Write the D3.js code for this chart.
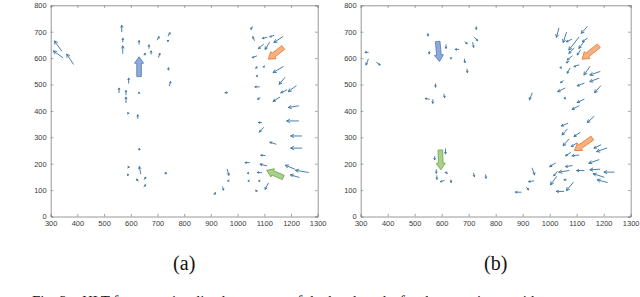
<!DOCTYPE html>
<html>
<head>
<meta charset="utf-8">
<script src="https://cdn.jsdelivr.net/npm/d3@7"></script>
<style>
  body { margin: 0; background: #fff; }
  svg { display: block; }
  .tick text { font-family: "Liberation Sans", Arial, sans-serif; font-size: 7.5px; fill: #3a3a3a; }
  .lbl { font-family: "Liberation Serif", "Times New Roman", serif; }
</style>
</head>
<body>
<script>
// tick values (both panels share them)
var xTicks = [300, 400, 500, 600, 700, 800, 900, 1000, 1100, 1200, 1300];
var yTicks = [0, 100, 200, 300, 400, 500, 600, 700, 800];

// panel (a): tail x, tail y, u, v
var aX = [341, 345, 385, 566, 570, 570, 631, 668, 676, 651, 699, 740, 737, 704, 741, 744, 592, 556, 582, 582, 631, 588, 626, 632, 590, 637, 588, 627, 651, 649, 728, 912,
          1055, 1063, 1109, 1136, 1097, 1119, 1169, 1071, 1073, 1099, 1171, 1072, 1177, 1081, 1184, 1219, 1084, 1158, 1228, 1228, 1090, 1097, 1240, 1144, 1240, 1103, 1044, 1109, 1213, 1265, 1230, 1090, 1115, 1073, 961, 944, 963, 1040, 1041, 1082, 965];
var aY = [627, 602, 577, 700, 662, 618, 653, 637, 615, 612, 669, 684, 664, 603, 555, 495, 505, 469, 461, 431, 468, 391, 372, 252, 187, 162, 158, 134, 141, 113, 164, 83,
          719, 667, 678, 686, 652, 659, 681, 608, 566, 568, 568, 532, 526, 491, 479, 495, 450, 452, 419, 362, 356, 337, 305, 274, 259, 231, 204, 192, 180, 167, 148, 166, 126, 94, 179, 112, 469, 164, 135, 135, 135];
var aU = [-27, -35, -25, 0, 0, 0, 0, 0, 0, 3, 7, 7, 5, 5, 0, 5, 0, 0, 0, 0, 0, 5, 0, 0, 4, -5, 4, -5, 5, 7, 6, 5,
          -5, -6, -16, -15, -19, -16, -33, -16, -5, -3, -38, -2, -21, -16, -22, -29, -9, -25, -38, -44, -12, -15, -41, -23, -41, -16, -16, -25, -34, -48, -32, -16, -12, -5, 6, 3, -10, -3, -2, -3, -2];
var aV = [38, 25, 38, 24, 13, 28, 13, 13, 12, 6, 12, 12, 3, 15, 8, 16, 19, 17, 16, 21, 3, 0, 13, 6, 0, 27, 0, 8, 8, 7, 0, 7,
          -10, 14, -3, -5, -16, -26, -22, -6, -4, -1, -23, 0, -25, 0, -10, -22, -6, -16, -6, 0, 0, -17, 0, 7, 0, 1, 0, 6, 14, 8, 10, 1, -23, 6, -23, -12, 0, 0, 0, 0, 0];

// panel (b): tail x, tail y, u, v
var bX = [328, 328, 359, 549, 554, 616, 634, 663, 687, 715, 728, 722, 684, 694, 577, 554, 567, 608, 935, 614, 574, 580, 582, 622, 609, 634, 718, 763, 935, 941, 914, 894,
          1034, 1062, 1081, 1139, 1108, 1139, 1127, 1114, 1090, 1083, 1071, 1108, 1043, 1075, 1149, 1186, 1182, 1127, 1050, 1056, 1189, 1059, 1127, 1108, 1164, 1067, 1065, 1112, 1071, 1100, 1077, 1189, 1211, 1108, 1021, 1083, 1182, 1071, 1127, 1186, 1238, 1028, 1201, 1213, 1025, 1061, 1087, 1052];
var bY = [622, 596, 583, 694, 625, 650, 599, 633, 662, 659, 719, 678, 596, 558, 502, 444, 442, 463, 467, 256, 227, 177, 154, 164, 136, 139, 164, 158, 183, 135, 110, 92,
          713, 697, 671, 719, 679, 675, 662, 631, 637, 608, 587, 574, 564, 562, 568, 549, 524, 505, 514, 486, 495, 448, 444, 419, 379, 353, 331, 318, 293, 278, 242, 271, 259, 233, 202, 193, 215, 174, 174, 179, 168, 170, 149, 129, 151, 139, 129, 95];
var bU = [-12, -8, 13, 0, 0, 0, 0, -13, 7, 3, 0, 11, 2, 1, 0, -15, 0, 3, -10, 0, 0, 0, 0, -9, -14, 1, 3, 1, 9, -19, 8, -21,
          -9, -12, -19, -22, -37, -18, -19, -12, -19, -18, -10, -18, -5, -10, -22, -37, -33, -25, -10, -26, -23, -6, -25, -25, -25, -24, -19, -22, -21, -20, -18, -25, -37, -25, -21, -24, -37, -37, -27, -37, -37, -13, -40, -37, -22, -8, -25, -27];
var bV = [0, -22, -9, -10, -9, -13, -2, 0, -8, -18, -10, -12, -13, -13, -12, 3, -13, -13, -25, -19, -12, -13, -13, 3, -4, -10, -13, -13, -25, -3, -9, 0,
          -34, -38, -9, -25, -48, -13, -25, -19, -19, -15, -4, -6, 0, -19, -32, -13, -13, -10, -7, -13, -26, 0, -12, -13, -23, -10, -22, -15, -25, -13, -12, -12, -13, -3, -13, -4, -13, -6, 0, -2, 0, -16, 13, 10, -31, 0, -31, 0];

// highlight block arrows: tail x, tail y, head x, head y, colour
var aNote = [[631, 530, 631, 605, "blue"], [1171, 640, 1115, 596, "orange"], [1171, 148, 1109, 175, "green"]];
var bNote = [[585, 663, 592, 587, "blue"], [1182, 647, 1120, 596, "orange"], [1158, 297, 1092, 250, "orange"], [595, 252, 597, 177, "green"]];
var noteFill = {blue: "#8eaadb", orange: "#f4b183", green: "#a9d18e"};
var noteEdge = {blue: "#5b80c4", orange: "#ed7d31", green: "#70ad47"};

var W = 640, H = 297;
var svg = d3.select("body").append("svg")
    .attr("width", W).attr("height", H);
svg.append("rect").attr("width", W).attr("height", H).attr("fill", "#fff");

function panel(left, right, X, Y, U, V, notes, label) {
  var top = 5.3, bottom = 216.5;
  var x = d3.scaleLinear().domain([300, 1300]).range([left, right]);
  var y = d3.scaleLinear().domain([0, 800]).range([bottom, top]);
  var g = svg.append("g");

  var tl = 2.6;
  g.append("g").attr("transform", "translate(0," + bottom + ")")
    .call(d3.axisBottom(x).tickValues(xTicks).tickSize(-tl).tickPadding(4.5).tickFormat(d3.format("d")));
  g.append("g").attr("transform", "translate(0," + top + ")")
    .call(d3.axisTop(x).tickValues(xTicks).tickSize(-tl).tickFormat(""));
  g.append("g").attr("transform", "translate(" + left + ",0)")
    .call(d3.axisLeft(y).tickValues(yTicks).tickSize(-tl).tickPadding(4).tickFormat(d3.format("d")));
  g.append("g").attr("transform", "translate(" + right + ",0)")
    .call(d3.axisRight(y).tickValues(yTicks).tickSize(-tl).tickFormat(""));
  g.selectAll(".domain").attr("stroke", "#8c8c8c").attr("stroke-width", 0.9);
  g.selectAll(".tick line").attr("stroke", "#8c8c8c").attr("stroke-width", 0.8);
  g.selectAll(".tick text").attr("font-size", null);

  // quiver arrows
  var d = X.map(function(v, i) {
    var x0 = x(v), y0 = y(Y[i]), x1 = x(v + U[i]), y1 = y(Y[i] + V[i]);
    var dx = x1 - x0, dy = y1 - y0, len = Math.sqrt(dx * dx + dy * dy);
    var p = "M" + x0 + "," + y0 + "L" + x1 + "," + y1;
    if (len > 0.5) {
      var ux = dx / len, uy = dy / len, hl = Math.min(2.8, Math.max(1.3, len * 0.28)), hw = hl * 0.55;
      p += "M" + (x1 - ux * hl - uy * hw) + "," + (y1 - uy * hl + ux * hw) + "L" + x1 + "," + y1 +
           "L" + (x1 - ux * hl + uy * hw) + "," + (y1 - uy * hl - ux * hw);
    }
    return p;
  });
  g.append("g").selectAll("path").data(d).join("path")
    .attr("d", function(s) { return s; })
    .attr("fill", "none").attr("stroke", "#34709f").attr("stroke-width", 0.9)
    .attr("stroke-linecap", "round");

  // block arrows
  g.append("g").selectAll("path").data(notes).join("path")
    .attr("d", function(n) {
      var x0 = x(n[0]), y0 = y(n[1]), x1 = x(n[2]), y1 = y(n[3]);
      var dx = x1 - x0, dy = y1 - y0, len = Math.sqrt(dx * dx + dy * dy);
      var ux = dx / len, uy = dy / len, nx = -uy, ny = ux;
      var w = 2.3, hw = 4.5, hl = 6.5;
      var bx = x1 - ux * hl, by = y1 - uy * hl;
      var pts = [[x0 + nx * w, y0 + ny * w], [bx + nx * w, by + ny * w], [bx + nx * hw, by + ny * hw], [x1, y1],
                 [bx - nx * hw, by - ny * hw], [bx - nx * w, by - ny * w], [x0 - nx * w, y0 - ny * w]];
      return "M" + pts.map(function(q) { return q[0] + "," + q[1]; }).join("L") + "Z";
    })
    .attr("fill", function(n) { return noteFill[n[4]]; })
    .attr("stroke", function(n) { return noteEdge[n[4]]; })
    .attr("stroke-width", 0.9);

  svg.append("text").attr("class", "lbl")
    .attr("x", (left + right) / 2).attr("y", 270)
    .attr("text-anchor", "middle").attr("font-size", 20).attr("fill", "#111")
    .text(label);
}

panel(50.7, 317.7, aX, aY, aU, aV, aNote, "(a)");
panel(360.7, 630.7, bX, bY, bU, bV, bNote, "(b)");

// caption line, only its top shows at the bottom edge
svg.append("text").attr("class", "lbl")
  .attr("x", 32).attr("y", 306).attr("font-size", 15).attr("fill", "#111")
  .attr("xml:space", "preserve")
  .text("Fig. 2.   HLT features visualized as arrows of the head tracks for the two views, with");
</script>
</body>
</html>
